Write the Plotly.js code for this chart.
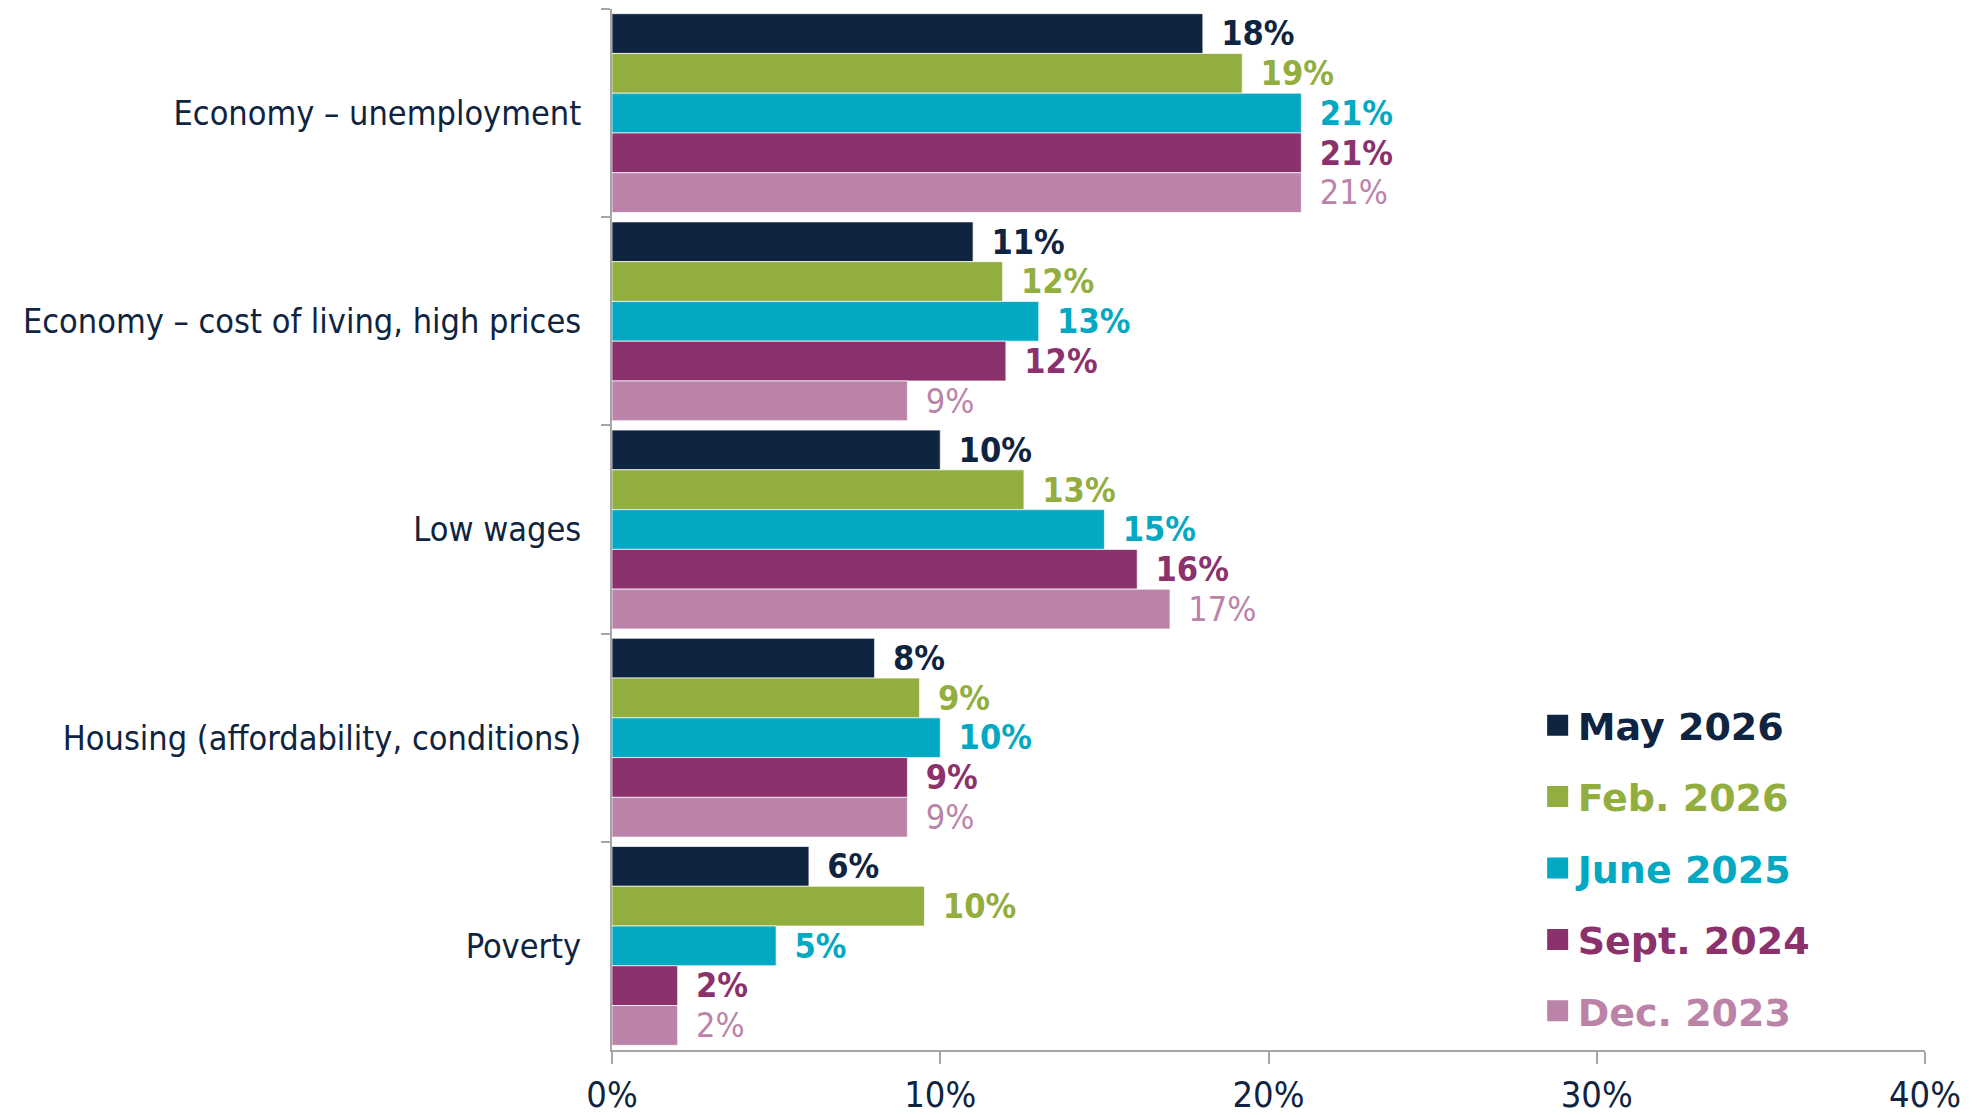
<!DOCTYPE html>
<html>
<head>
<meta charset="utf-8">
<script src="https://cdn.plot.ly/plotly-3.0.1.min.js"></script>
<style>html,body{margin:0;padding:0;background:#fff;}#chart{width:1977px;height:1115px;}</style>
</head>
<body>
<div id="chart"></div>
<script>
// ---- Data ----
const categories = [
  "Economy \u2013 unemployment",
  "Economy \u2013 cost of living, high prices",
  "Low wages",
  "Housing (affordability, conditions)",
  "Poverty"
];
const seriesNames = ["May 2026", "Feb. 2026", "June 2025", "Sept. 2024", "Dec. 2023"];
const may2026  = [18, 11, 10, 8, 6];
const feb2026  = [19.2, 11.9, 12.55, 9.37, 9.52];
const june2025 = [21, 13, 15, 10, 5];
const sept2024 = [21, 12, 16, 9, 2];
const dec2023  = [21, 9, 17, 9, 2];
const xTickVals = [0, 10, 20, 30, 40];
const xTickText = ["0%", "10%", "20%", "30%", "40%"];

// ---- Styles ----
const colors = ["#0F2440", "#92AE3E", "#03A9C3", "#8B316C", "#BC83A9"];
const labelWeights = ["bold", "bold", "bold", "bold", "normal"];
const narrowFont = "Liberation Sans Narrow, DejaVu Sans Condensed, sans-serif";
const labelFont = "DejaVu Sans Condensed, DejaVu Sans, sans-serif";
const legendFont = "DejaVu Sans, sans-serif";

const allValues = [may2026, feb2026, june2025, sept2024, dec2023];

const traces = allValues.map((vals, i) => ({
  type: "bar",
  orientation: "h",
  name: seriesNames[i],
  y: categories,
  x: vals,
  marker: { color: colors[i], line: { color: "rgba(255,255,255,0.7)", width: 1 } },
  texttemplate: "\u2002%{x:.0f}%",
  textposition: "outside",
  cliponaxis: false,
  textfont: { family: narrowFont, size: 42, color: colors[i], weight: labelWeights[i] },
  showlegend: false,
  hoverinfo: "x+y"
}));

// legend entries (larger square swatches)
seriesNames.forEach((nm, i) => {
  traces.push({
    type: "scatter",
    mode: "markers",
    x: [null],
    y: [null],
    name: '<b><span style="color:' + colors[i] + '">' + nm + '</span></b>',
    legendgroup: "g" + i,
    marker: { symbol: "square", size: 16, color: colors[i], line: { color: colors[i], width: 5 } },
    showlegend: true,
    hoverinfo: "skip"
  });
});

const layout = {
  width: 1977,
  height: 1115,
  margin: { l: 612, r: 52, t: 9, b: 65 },
  paper_bgcolor: "#ffffff",
  plot_bgcolor: "#ffffff",
  barmode: "group",
  bargap: 0.045,
  bargroupgap: 0,
  showlegend: true,
  legend: {
    x: 0.705, xanchor: "left",
    y: 0.342, yanchor: "top",
    traceorder: "grouped",
    tracegroupgap: 19,
    itemsizing: "trace",
    font: { family: legendFont, size: 38, color: "#0F2440" },
    bgcolor: "rgba(0,0,0,0)"
  },
  xaxis: {
    range: [0, 40],
    tickvals: xTickVals,
    ticktext: xTickText,
    showgrid: false,
    zeroline: false,
    showline: true,
    linecolor: "#A6A6A6",
    linewidth: 2,
    ticks: "outside",
    ticklen: 12,
    tickwidth: 2,
    tickcolor: "#A6A6A6",
    tickfont: { family: narrowFont, size: 36, color: "#0F2440" },
    fixedrange: true
  },
  yaxis: {
    type: "category",
    autorange: "reversed",
    showgrid: false,
    zeroline: false,
    showline: true,
    linecolor: "#A6A6A6",
    linewidth: 2,
    ticks: "outside",
    tickson: "boundaries",
    ticklen: 9,
    tickwidth: 2,
    tickcolor: "#A6A6A6",
    ticklabelstandoff: 22,
    tickfont: { family: labelFont, size: 34, color: "#0F2440" },
    fixedrange: true
  }
};

Plotly.newPlot("chart", traces, layout, { displayModeBar: false, staticPlot: true });
</script>
</body>
</html>
